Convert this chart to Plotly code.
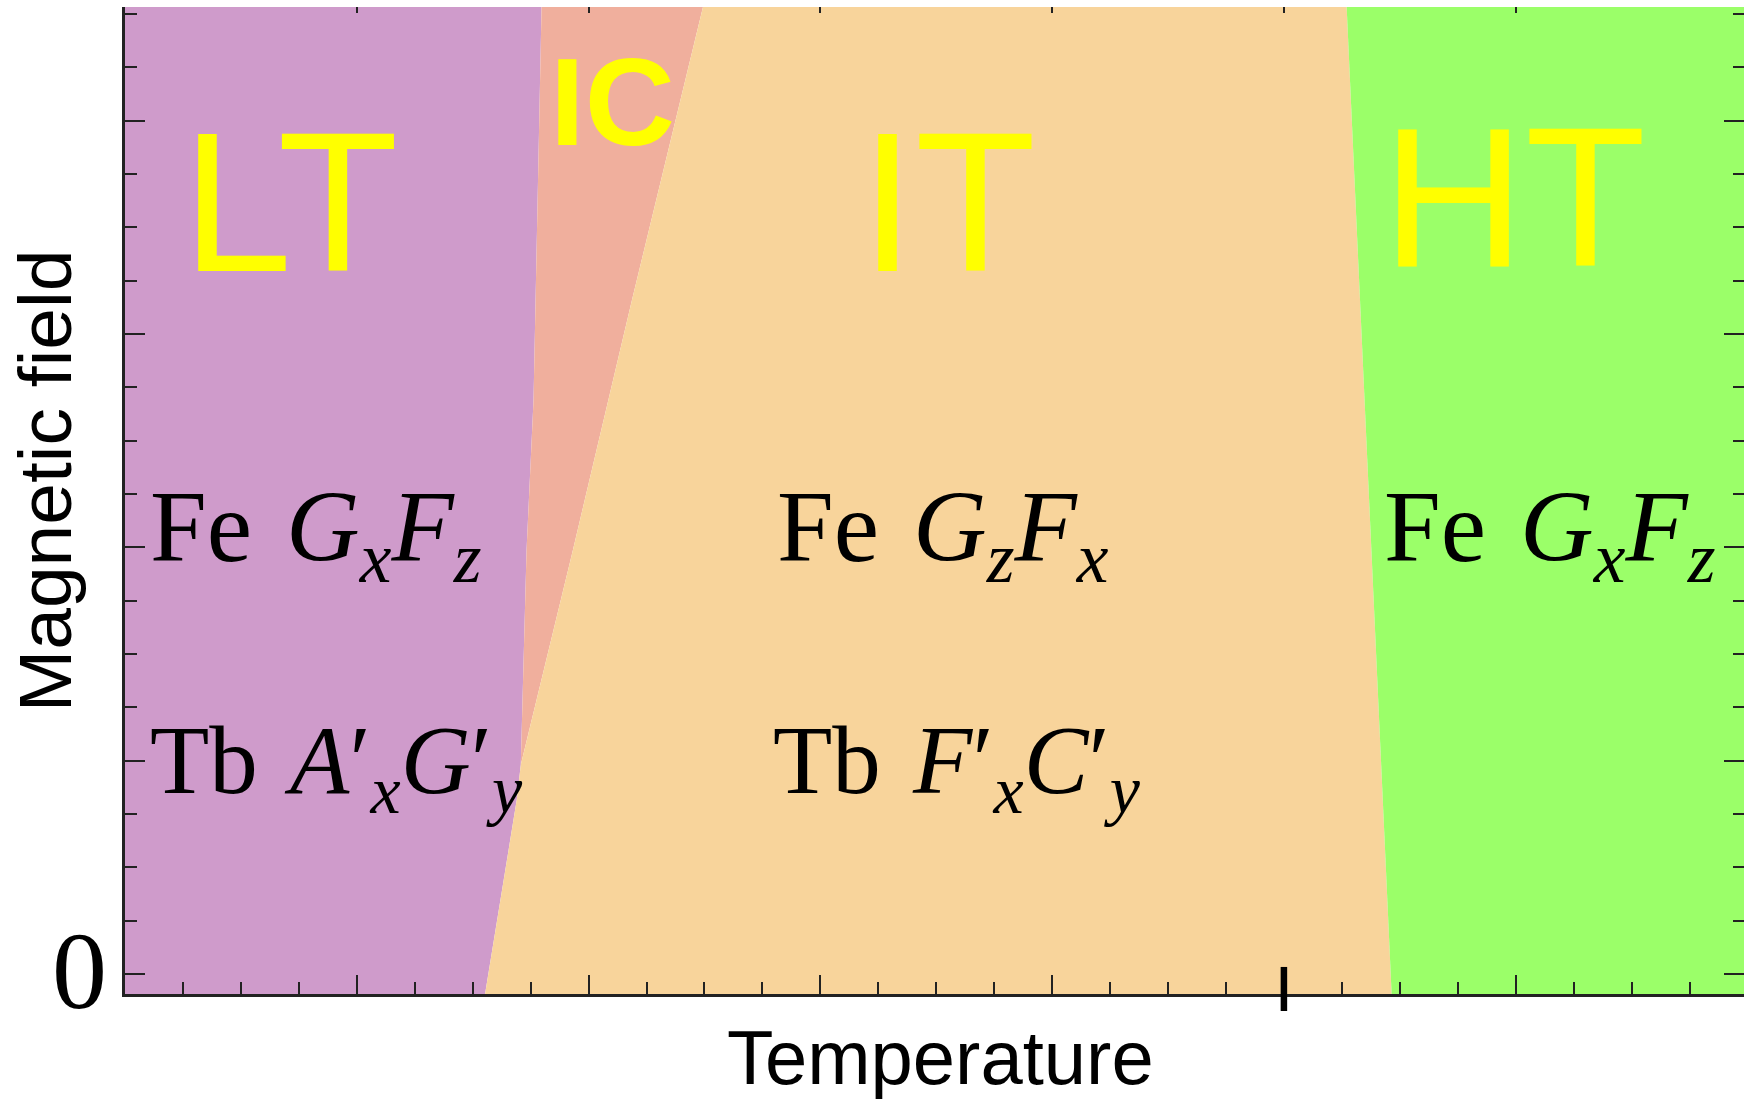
import plotly.graph_objects as go

# ---------------- data (phase boundaries in T–H plane, arbitrary units) ----------------
T_VIEW = [0, 27.94]
H_VIEW = [-0.375, 18.13]
H_MIN, H_MAX = -0.4, 18.2
T_LEFT, T_RIGHT = -0.5, 28.5

# LT / IC boundary (low-temperature edge of the incommensurate wedge)
lt_ic_T = [6.83, 6.93, 7.05, 7.19]
lt_ic_H = [3.92, 7.95, 10.76, 18.2]
# IC / IT boundary
ic_it_T = [6.83, 7.73, 8.75, 9.99]
ic_it_H = [3.92, 7.95, 12.64, 18.2]
# LT / IT boundary (below the triple point)
lt_it_T = [6.21, 6.76, 6.83]
lt_it_H = [H_MIN, 3.26, 3.92]
# IT / HT boundary
it_ht_T = [21.86, 21.08]
it_ht_H = [H_MIN, H_MAX]

# axis ticks
minor_step = 1
major_T = [4, 8, 12, 16, 20, 24]
major_H = [0, 4, 8, 12, 16]
zero_label = ("0", 0.0)          # the only labelled field value
marked_T = [20]

phase_names = ["LT", "IC", "IT", "HT"]
phase_colors = ["#CF9BCB", "#F0AF9D", "#F8D49B", "#9BFF69"]

# ---------------- region polygons built from the boundaries ----------------
lt_poly_T = [T_LEFT, T_LEFT] + lt_ic_T[::-1] + lt_it_T[::-1][1:]
lt_poly_H = [H_MIN, H_MAX] + lt_ic_H[::-1] + lt_it_H[::-1][1:]

ic_poly_T = lt_ic_T + ic_it_T[::-1]
ic_poly_H = lt_ic_H + ic_it_H[::-1]

it_poly_T = lt_it_T + ic_it_T[1:] + it_ht_T[::-1]
it_poly_H = lt_it_H + ic_it_H[1:] + it_ht_H[::-1]

ht_poly_T = it_ht_T + [T_RIGHT, T_RIGHT]
ht_poly_H = it_ht_H + [H_MAX, H_MIN]

polys = [(lt_poly_T, lt_poly_H), (ic_poly_T, ic_poly_H),
         (it_poly_T, it_poly_H), (ht_poly_T, ht_poly_H)]

fig = go.Figure()
for name, (tx, hy), col in zip(phase_names, polys, phase_colors):
    fig.add_trace(go.Scatter(
        x=tx, y=hy, mode="lines", fill="toself", fillcolor=col,
        line=dict(width=0, color=col), name=name, hoverinfo="skip",
        showlegend=False))

# dummy trace to activate the mirrored tick axes
fig.add_trace(go.Scatter(x=[None], y=[None], xaxis="x2", yaxis="y2",
                         showlegend=False, hoverinfo="skip"))

AX = "#222222"
SANS = "Liberation Sans, Arial, sans-serif"
SERIF = "Liberation Serif, Times New Roman, serif"

fig.update_layout(
    width=1744, height=1099,
    margin=dict(l=125, r=0, t=7, b=105),
    paper_bgcolor="white", plot_bgcolor="white",
    xaxis=dict(range=T_VIEW, showgrid=False, zeroline=False,
               showline=True, linecolor=AX, linewidth=3,
               tickmode="array", tickvals=major_T, showticklabels=False,
               ticks="inside", ticklen=19, tickwidth=2, tickcolor=AX,
               minor=dict(tickmode="linear", tick0=0, dtick=minor_step,
                          ticks="inside", ticklen=12, tickwidth=2,
                          tickcolor=AX, showgrid=False)),
    yaxis=dict(range=H_VIEW, showgrid=False, zeroline=False,
               showline=True, linecolor=AX, linewidth=3,
               tickmode="array", tickvals=major_H, showticklabels=False,
               ticks="inside", ticklen=20, tickwidth=2, tickcolor=AX,
               minor=dict(tickmode="linear", tick0=0, dtick=minor_step,
                          ticks="inside", ticklen=12, tickwidth=2,
                          tickcolor=AX, showgrid=False)),
    xaxis2=dict(range=T_VIEW, overlaying="x", side="top", showgrid=False,
                zeroline=False, showline=False, showticklabels=False,
                tickmode="array", tickvals=major_T,
                ticks="inside", ticklen=6, tickwidth=2, tickcolor=AX),
    yaxis2=dict(range=H_VIEW, overlaying="y", side="right", showgrid=False,
                zeroline=False, showline=False, showticklabels=False,
                tickmode="array", tickvals=major_H,
                ticks="inside", ticklen=20, tickwidth=2, tickcolor=AX,
                minor=dict(tickmode="linear", tick0=0, dtick=minor_step,
                           ticks="inside", ticklen=11, tickwidth=2,
                           tickcolor=AX, showgrid=False)),
)

# "0" label of the field axis
fig.add_annotation(text=zero_label[0], xref="paper", yref="y",
                   x=-0.0099, y=zero_label[1] + 0.05, xanchor="right",
                   yanchor="middle", showarrow=False,
                   font=dict(family=SERIF, size=110, color="black"))

# thick marker tick on the temperature axis
for tm in marked_T:
    fig.add_shape(type="line", xref="x", yref="paper", x0=tm, x1=tm,
                  y0=-0.0172, y1=0.0274, line=dict(color="black", width=6.5),
                  layer="above")

# axis titles
fig.add_annotation(text="Temperature", xref="paper", yref="paper",
                   x=0.504, y=-0.0643, xanchor="center", yanchor="middle",
                   showarrow=False, font=dict(family=SANS, size=76, color="black"))
fig.add_annotation(text="Magnetic field", xref="paper", yref="paper",
                   x=-0.0497, y=0.52, xanchor="center", yanchor="middle",
                   textangle=-90, showarrow=False,
                   font=dict(family=SANS, size=75, color="black"))

# big phase labels
YEL = "#FFFF00"
big = [("LT", 2.85, 14.47, 198), ("IT", 14.2, 14.47, 198), ("HT", 23.97, 14.55, 198)]
for txt, xx, yy, sz in big:
    fig.add_annotation(text=txt, x=xx, y=yy, xanchor="center", yanchor="middle",
                       showarrow=False, font=dict(family=SANS, size=sz, color=YEL))
fig.add_annotation(text="<b>IC</b>", x=8.42, y=16.36, xanchor="center",
                   yanchor="middle", showarrow=False,
                   font=dict(family=SANS, size=125, color=YEL))

# magnetic structure labels
SP_FE = "\u00a0\u200a"
SP_TB = "\u00a0\u200a"
fe_gxfz = "Fe" + SP_FE + "<i>G</i><sub><i>x</i></sub><i>F</i><sub><i>z</i></sub>"
fe_gzfx = "Fe" + SP_FE + "<i>G</i><sub><i>z</i></sub><i>F</i><sub><i>x</i></sub>"
tb_lt = "Tb" + SP_TB + "<i>A</i>\u2032<sub><i>x</i></sub><i>G</i>\u2032<sub><i>y</i></sub>"
tb_it = "Tb" + SP_TB + "<i>F</i>\u2032<sub><i>x</i></sub><i>C</i>\u2032<sub><i>y</i></sub>"
labels = [(fe_gxfz, 0.40, 8.26, 102), (tb_lt, 0.40, 3.88, 97),
          (fe_gzfx, 11.22, 8.26, 102), (tb_it, 11.15, 3.88, 97),
          (fe_gxfz, 21.69, 8.26, 102)]
for txt, xx, yy, sz in labels:
    fig.add_annotation(text=txt, x=xx, y=yy, xanchor="left", yanchor="middle",
                       showarrow=False,
                       font=dict(family=SERIF, size=sz, color="black"))

fig.write_html("out.html")
